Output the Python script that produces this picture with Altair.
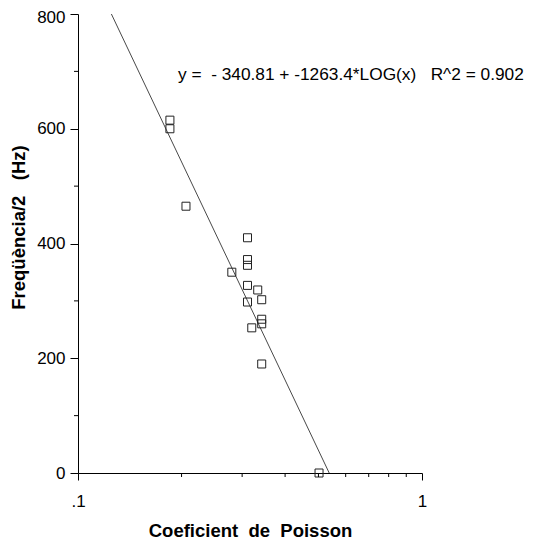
import altair as alt
import pandas as pd

# Data
poisson = [0.185, 0.185, 0.206, 0.311, 0.311, 0.311, 0.280, 0.311, 0.333, 0.342,
           0.311, 0.342, 0.342, 0.320, 0.342, 0.502]
freq = [615, 600, 465, 410, 372, 362, 350, 327, 319, 302,
        298, 268, 260, 253, 190, 0]

# Regression shown on the chart: y = a + b*log10(x)
intercept = -340.81
slope = -1263.4
NB = "\u00a0"
equation = f"y ={NB}{NB}- 340.81 + -1263.4*LOG(x){NB}{NB}{NB}R^2 = 0.902"
x_title = f"Coeficient{NB}{NB}de{NB}{NB}Poisson"
y_title = f"Freqüència/2{NB}{NB}{NB}(Hz)"

x_major = [0.1, 1]
x_minor = [0.2, 0.3, 0.4, 0.5, 0.6, 0.7, 0.8, 0.9]
y_major = [0, 200, 400, 600, 800]
y_minor = [100, 300, 500, 700]

W, H = 344, 459
FONT = "Liberation Sans"
INK = "#222222"

pts = pd.DataFrame({"x": poisson, "y": freq})

# line endpoints within the y domain [0, 800]
y_ends = [800, 0]
line_df = pd.DataFrame({"y": y_ends,
                        "x": [10 ** ((v - intercept) / slope) for v in y_ends]})

xscale = alt.Scale(type="log", domain=[0.1, 1], nice=False)
yscale = alt.Scale(domain=[0, 800], nice=False)

xaxis = alt.Axis(values=x_major, labelExpr="datum.value == 0.1 ? '.1' : '1'",
                 tickSize=7, labelPadding=13, grid=False, labelFlush=False,
                 title=x_title, titleFontWeight="bold",
                 titleFontSize=18.5, titlePadding=12, titleFont=FONT,
                 labelFont=FONT, labelFontSize=17, labelColor="black",
                 domainColor="black", tickColor="black", titleColor="black")
yaxis = alt.Axis(values=y_major, tickSize=8, labelPadding=5, grid=False,
                 labelFlush=False,
                 labelOffset={"condition": {"test": "datum.value == 800", "value": 3},
                              "value": 0},
                 title=y_title, titleFontWeight="bold",
                 titleFontSize=18.5, titleFont=FONT, titleX=-60, titleY=213,
                 titleAngle=-90, titleAlign="center", titleBaseline="middle",
                 labelFont=FONT, labelFontSize=17, labelColor="black",
                 domainColor="black", tickColor="black", titleColor="black")

points = alt.Chart(pts).mark_point(shape="square", size=64, filled=False,
                                   color=INK, strokeWidth=1, opacity=1).encode(
    x=alt.X("x:Q", scale=xscale, axis=xaxis),
    y=alt.Y("y:Q", scale=yscale, axis=yaxis),
)

line = alt.Chart(line_df).mark_line(color="#333333", strokeWidth=0.9).encode(
    x=alt.X("x:Q", scale=xscale),
    y=alt.Y("y:Q", scale=yscale),
)

xminor = alt.Chart(pd.DataFrame({"x": x_minor})).mark_rule(color="black", strokeWidth=1).encode(
    x=alt.X("x:Q", scale=xscale),
    y=alt.value(H), y2=alt.value(H + 4),
)
yminor = alt.Chart(pd.DataFrame({"y": y_minor})).mark_rule(color="black", strokeWidth=1).encode(
    y=alt.Y("y:Q", scale=yscale),
    x=alt.value(-4), x2=alt.value(0),
)

eq = alt.Chart(pd.DataFrame({"t": [equation]})).mark_text(
    align="left", baseline="middle", font=FONT, fontSize=17.3, color="black").encode(
    text="t:N", x=alt.value(100), y=alt.value(61),
)

chart = alt.layer(line, points, xminor, yminor, eq).properties(
    width=W, height=H, autosize="none", background="white",
    padding={"left": 70, "top": 6, "right": 104, "bottom": 70},
).configure(view=alt.ViewConfig(stroke="transparent", strokeWidth=0),
            axis=alt.AxisConfig(grid=False))

chart.save("out.html", embed_options={"renderer": "svg", "actions": False})
